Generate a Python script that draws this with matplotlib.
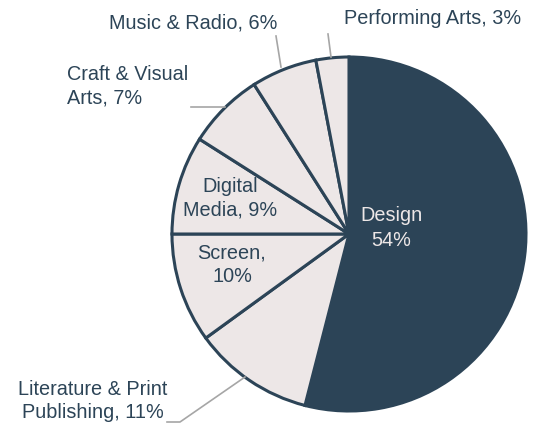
import numpy as np
import matplotlib
matplotlib.use("Agg")
import matplotlib.pyplot as plt

plt.rcParams['font.family'] = ['Liberation Sans', 'DejaVu Sans']

categories = ['Design', 'Literature & Print Publishing', 'Screen', 'Digital Media',
              'Craft & Visual Arts', 'Music & Radio', 'Performing Arts']
shares = [54, 11, 10, 9, 7, 6, 3]

dark = '#2C4457'
light = '#EDE7E7'
line_grey = '#A6A6A6'

fig = plt.figure(figsize=(5.37, 4.26), dpi=100)
ax = fig.add_axes([0, 0, 1, 1])

cx, cy, r = 349, 234, 177
colors = [dark] + [light] * (len(shares) - 1)
# y axis is flipped (pixel coordinates), so start at -90 and run counterclockwise
ax.pie(shares, colors=colors, startangle=-90, counterclock=True,
       center=(cx, cy), radius=r, frame=True,
       wedgeprops=dict(edgecolor=dark, linewidth=2.2))
ax.set_xlim(0, 537)
ax.set_ylim(426, 0)
ax.set_aspect('equal')
ax.axis('off')

fs = 14.3
ls = 1.32

# Design (inside)
ax.text(391, 228, f'{categories[0]}\n{shares[0]}%', color=light, fontsize=fs,
        ha='center', va='center', linespacing=1.4)
# Digital Media, Screen (inside)
ax.text(230, 198, f'Digital\nMedia, {shares[3]}%', color=dark, fontsize=fs,
        ha='center', va='center', linespacing=ls)
ax.text(232, 265, f'{categories[2]},\n{shares[2]}%', color=dark, fontsize=fs,
        ha='center', va='center', linespacing=ls)

# outside labels with leader lines
ax.text(93, 401, f'Literature & Print\nPublishing, {shares[1]}%', color=dark,
        fontsize=fs, ha='center', va='center', linespacing=ls)
ax.plot([245, 180, 167], [377, 422, 422], color=line_grey, lw=1.2)

ax.text(67, 86, f'Craft & Visual\nArts, {shares[4]}%', color=dark, fontsize=fs,
        ha='left', va='center', linespacing=ls)
ax.plot([191, 225], [107, 107], color=line_grey, lw=1.2)

ax.text(193, 23, f'{categories[5]}, {shares[5]}%', color=dark, fontsize=fs,
        ha='center', va='center')
ax.plot([281, 276], [67, 36], color=line_grey, lw=1.2)

ax.text(433, 19, f'{categories[6]}, {shares[6]}%', color=dark, fontsize=fs,
        ha='center', va='center')
ax.plot([331, 328], [57, 34], color=line_grey, lw=1.2)

fig.savefig('out.png', dpi=100, facecolor='white')
